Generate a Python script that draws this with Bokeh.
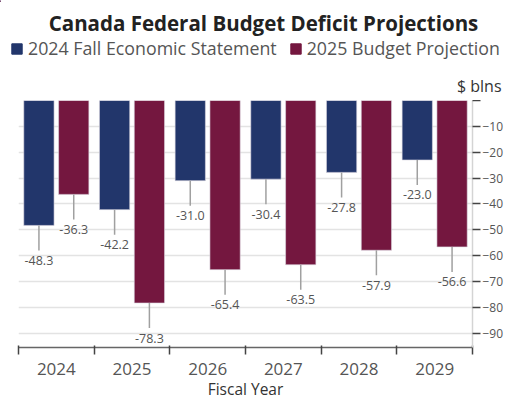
from bokeh.plotting import figure
from bokeh.models import (ColumnDataSource, Range1d, FixedTicker, LinearAxis, Label,
                          Legend, LegendItem)
from bokeh.embed import file_html
from bokeh.resources import INLINE

years = ["2024", "2025", "2026", "2027", "2028", "2029"]
fes_2024 = [-48.3, -42.2, -31.0, -30.4, -27.8, -23.0]
budget_2025 = [-36.3, -78.3, -65.4, -63.5, -57.9, -56.6]
y_ticks = [0, -10, -20, -30, -40, -50, -60, -70, -80, -90]
series_names = ["2024 Fall Economic Statement", "2025 Budget Projection"]
colors = ["#22366b", "#74173f"]

FONT = "Open Sans"
W = 506
HEAD_H = 100
MAIN_H = 298
Y_MIN, Y_MAX = -95.5, 0
FRAME_H = 247
px_per_unit = FRAME_H / (Y_MAX - Y_MIN)
leader_len = 25 / px_per_unit

centers = [i + 0.5 for i in range(len(years))]
off = 0.23
bw = 0.40

# ---------------- header: title, legend, unit (pixel coordinates) ----------------
h = figure(width=W, height=HEAD_H, output_backend="svg", toolbar_location=None,
           x_range=Range1d(0, W), y_range=Range1d(HEAD_H, 0),
           x_axis_location=None, y_axis_location=None, title=None,
           min_border=0, outline_line_color=None)
h.grid.visible = False
h.add_layout(Label(x=263, y=22,
                   text="Canada Federal Budget Deficit Projections",
                   text_align="center", text_baseline="middle",
                   text_font=FONT, text_font_size="20.5px", text_font_style="bold",
                   text_color="#222222"))
h.add_layout(Label(x=501, y=85,
                   text="$ blns", text_align="right", text_baseline="middle",
                   text_font=FONT, text_font_size="16px", text_color="#333333"))
dummy = []
for k in range(2):
    dummy.append(h.vbar(x=[-1000], top=[1], width=1, fill_color=colors[k],
                        line_color=colors[k]))
legend = Legend(items=[LegendItem(label=series_names[i], renderers=[dummy[i]])
                       for i in range(2)],
                orientation="horizontal", location=(10, 40),
                glyph_width=13, glyph_height=13, label_standoff=5, spacing=12,
                padding=0, margin=0, border_line_color=None, background_fill_alpha=0,
                label_text_font=FONT, label_text_font_size="17.8px",
                label_text_color="#555555", label_height=13)
h.add_layout(legend, "center")

# ---------------- main chart ----------------
p = figure(width=W, height=MAIN_H, output_backend="svg", toolbar_location=None,
           x_range=Range1d(0, len(years)), y_range=Range1d(Y_MIN, Y_MAX),
           y_axis_location=None, x_axis_location=None, title=None,
           min_border_left=18, min_border_right=33, min_border_top=0,
           min_border_bottom=51, outline_line_color=None)
p.frame_height = FRAME_H

p.xgrid.visible = False
p.ygrid.ticker = FixedTicker(ticks=y_ticks)
p.ygrid.grid_line_color = "#e3e3e3"
p.ygrid.grid_line_width = 1.5

for k, vals in enumerate([fes_2024, budget_2025]):
    xs = [c + (-off if k == 0 else off) for c in centers]
    src = ColumnDataSource(dict(x=xs, top=vals, lab=[f"{v:.1f}" for v in vals],
                                y1=[v - leader_len for v in vals]))
    p.vbar(x="x", width=bw, top="top", bottom=0, source=src,
           fill_color=colors[k], line_color="#dcd6e0", line_width=0.6)
    p.segment(x0="x", x1="x", y0="top", y1="y1", source=src,
              line_color="#a0a0a0", line_width=1.5)
    p.text(x="x", y="top", text="lab", source=src, y_offset=35,
           text_align="center", text_baseline="middle",
           text_font={"value": FONT}, text_font_size="12.5px",
           text_color="#555555")

# right y axis
yax = LinearAxis(ticker=FixedTicker(ticks=y_ticks))
yax.major_label_overrides = {0: ""}
yax.axis_line_color = "#d4d4d4"
yax.axis_line_width = 1.5
yax.major_tick_line_color = "#444444"
yax.major_tick_line_width = 1.5
yax.major_tick_in = 0
yax.major_tick_out = 8
yax.minor_tick_line_color = None
yax.major_label_standoff = 2
yax.major_label_text_font = FONT
yax.major_label_text_font_size = "12px"
yax.major_label_text_color = "#555555"
p.add_layout(yax, "right")

# bottom x axis: labels at centers, ticks at boundaries
xax = LinearAxis(ticker=FixedTicker(ticks=centers, minor_ticks=list(range(len(years) + 1))))
xax.major_label_overrides = {c: y for c, y in zip(centers, years)}
xax.major_tick_line_color = None
xax.major_tick_in = 0
xax.major_tick_out = 0
xax.minor_tick_line_color = "#444444"
xax.minor_tick_line_width = 1.5
xax.minor_tick_in = 2
xax.minor_tick_out = 7
xax.axis_line_color = "#666666"
xax.axis_line_width = 1.5
xax.major_label_standoff = 8
xax.major_label_text_font = FONT
xax.major_label_text_font_size = "17px"
xax.major_label_text_color = "#555555"
xax.axis_label = "Fiscal Year"
xax.axis_label_standoff = 0
xax.axis_label_text_font = FONT
xax.axis_label_text_font_size = "15.5px"
xax.axis_label_text_font_style = "normal"
xax.axis_label_text_color = "#333333"
p.add_layout(xax, "below")

open("out.html", "w").write(file_html([h, p], INLINE))
